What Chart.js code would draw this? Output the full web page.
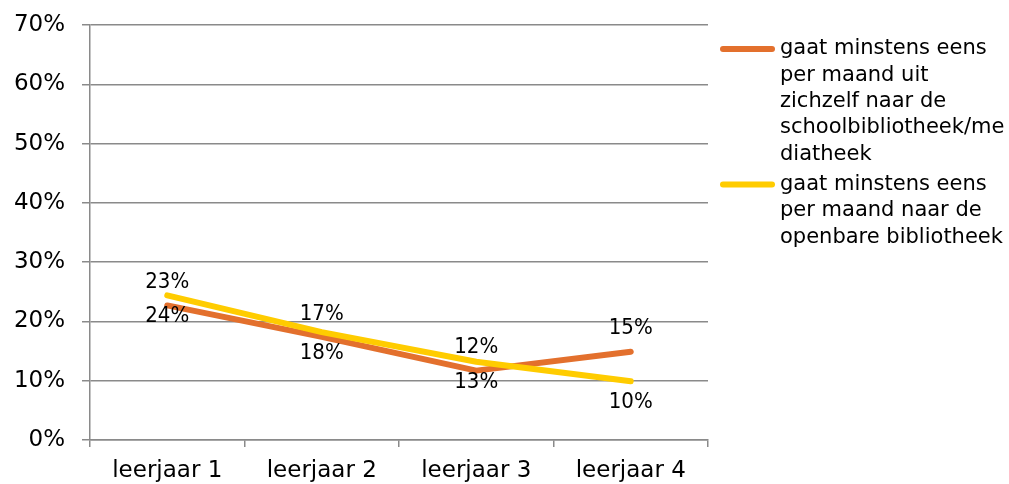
<!DOCTYPE html>
<html>
<head>
<meta charset="utf-8">
<script src="https://cdn.jsdelivr.net/npm/chart.js@4"></script>
<style>
  body { margin: 0; background: #fff; }
  #wrap { width: 1009px; height: 484px; }
</style>
</head>
<body>
<div id="wrap"><canvas id="chart"></canvas></div>
<script>
var categories = ['leerjaar 1', 'leerjaar 2', 'leerjaar 3', 'leerjaar 4'];
var schoolValues = [22.7, 17.4, 11.7, 14.9];
var openbareValues = [24.4, 18.2, 13.2, 9.9];
var schoolLegend = ['gaat minstens eens', 'per maand uit', 'zichzelf naar de', 'schoolbibliotheek/me', 'diatheek'];
var openbareLegend = ['gaat minstens eens', 'per maand naar de', 'openbare bibliotheek'];
var yTicks = [0, 10, 20, 30, 40, 50, 60, 70];

var gridColor = '#8a8a8a';
var textFont = '"DejaVu Sans", Verdana, sans-serif';

// value labels: orange above its point, yellow below
var pointLabels = {
    id: 'pointLabels',
    afterDatasetsDraw: function(chart) {
        var ctx = chart.ctx;
        ctx.save();
        ctx.font = '22px "DejaVu Sans Condensed", "Liberation Sans Narrow", sans-serif';
        ctx.fillStyle = '#000';
        ctx.textAlign = 'center';
        ctx.textBaseline = 'middle';
        chart.data.datasets.forEach(function(ds, i) {
            var meta = chart.getDatasetMeta(i);
            meta.data.forEach(function(pt, j) {
                ctx.fillText(Math.round(ds.data[j]) + '%', pt.x, pt.y + ds.labelShift);
            });
        });
        ctx.restore();
    }
};

// legend on the right with wrapped text
var sideLegend = {
    id: 'sideLegend',
    afterDraw: function(chart) {
        var ctx = chart.ctx;
        var x = chart.chartArea.right + 12;
        var y = 49;
        var lh = 26.3;
        ctx.save();
        ctx.font = '21px ' + textFont;
        ctx.textBaseline = 'middle';
        chart.data.datasets.forEach(function(ds) {
            ctx.strokeStyle = ds.borderColor;
            ctx.lineWidth = 6;
            ctx.lineCap = 'round';
            ctx.beginPath();
            ctx.moveTo(x + 3, y);
            ctx.lineTo(x + 52, y);
            ctx.stroke();
            ctx.fillStyle = '#000';
            ds.legendLines.forEach(function(line, k) {
                ctx.fillText(line, x + 60, y + k * lh);
            });
            y += ds.legendLines.length * lh + 4;
        });
        ctx.restore();
    }
};

new Chart(document.getElementById('chart'), {
    type: 'line',
    data: {
        labels: categories,
        datasets: [{
            label: schoolLegend.join(' '),
            legendLines: schoolLegend,
            labelShift: -23,
            data: schoolValues,
            borderColor: '#E3702D',
            borderWidth: 6,
            borderCapStyle: 'round',
            borderJoinStyle: 'round',
            pointRadius: 0,
            tension: 0,
            order: 1
        }, {
            label: openbareLegend.join(' '),
            legendLines: openbareLegend,
            labelShift: 21,
            data: openbareValues,
            borderColor: '#FFCC00',
            borderWidth: 6,
            borderCapStyle: 'round',
            borderJoinStyle: 'round',
            pointRadius: 0,
            tension: 0,
            order: 0
        }]
    },
    options: {
        responsive: true,
        maintainAspectRatio: false,
        animation: false,
        layout: {
            padding: { left: 13, right: 301, top: 25, bottom: 0 }
        },
        plugins: {
            legend: { display: false },
            tooltip: { enabled: false }
        },
        scales: {
            x: {
                offset: true,
                afterFit: function(scale) {
                    scale.height = 44;
                },
                grid: {
                    offset: true,
                    drawOnChartArea: false,
                    drawTicks: true,
                    tickLength: 7,
                    color: gridColor,
                    lineWidth: 1.5
                },
                border: { color: gridColor, width: 1.5 },
                ticks: {
                    color: '#000',
                    padding: 10,
                    maxRotation: 0,
                    font: { family: textFont, size: 23 }
                }
            },
            y: {
                min: yTicks[0],
                max: yTicks[yTicks.length - 1],
                afterBuildTicks: function(scale) {
                    scale.ticks = yTicks.map(function(v) { return { value: v }; });
                },
                afterFit: function(scale) {
                    scale.width = 77;
                    scale.paddingTop = 0;
                    scale.paddingBottom = 0;
                },
                grid: {
                    color: gridColor,
                    lineWidth: 1.5,
                    tickLength: 8
                },
                border: { color: gridColor, width: 1.5 },
                ticks: {
                    color: '#000',
                    padding: 17,
                    font: { family: textFont, size: 23 },
                    callback: function(value) {
                        return value + '%';
                    }
                }
            }
        }
    },
    plugins: [pointLabels, sideLegend]
});
</script>
</body>
</html>
